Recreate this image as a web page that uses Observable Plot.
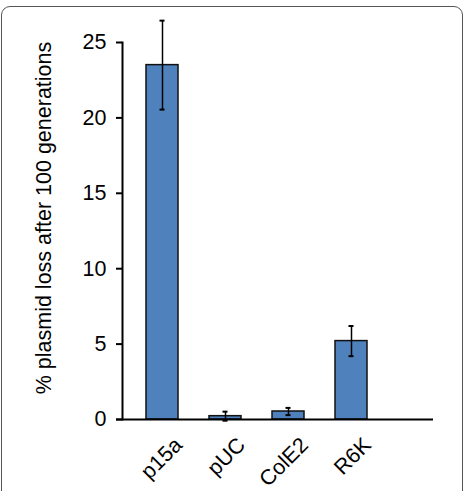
<!DOCTYPE html>
<html>
<head>
<meta charset="utf-8">
<script src="https://cdn.jsdelivr.net/npm/d3@7"></script>
<script src="https://cdn.jsdelivr.net/npm/@observablehq/plot@0.6"></script>
<style>
  html, body { margin: 0; padding: 0; background: #fff; }
  #wrap { position: relative; width: 469px; height: 491px; overflow: hidden; }
  #frame { position: absolute; left: 1px; top: 6px; width: 462px; height: 520px;
           border: 1.5px solid #555; border-radius: 9px; box-sizing: border-box; }
  #chart { position: absolute; left: 0; top: 0; }
</style>
</head>
<body>
<div id="wrap"><div id="frame"></div><div id="chart"></div></div>
<script>
const categories = ["p15a", "pUC", "ColE2", "R6K"];
const values = [23.5, 0.22, 0.53, 5.2];
const errors = [2.95, 0.3, 0.24, 1.0];
const yTicks = [0, 5, 10, 15, 20, 25];
const yLabel = "% plasmid loss after 100 generations";

const data = categories.map((c, i) => ({
  cat: c, v: values[i], lo: values[i] - errors[i], hi: values[i] + errors[i]
}));

const font = "'Liberation Sans', Arial, Helvetica, sans-serif";
const fs = 21.5;

const chart = Plot.plot({
  width: 469,
  height: 491,
  marginLeft: 122,
  marginRight: 36,
  marginTop: 42,
  marginBottom: 72,
  style: { fontFamily: font, fontSize: fs + "px", color: "#000", background: "transparent" },
  x: { domain: categories, range: [129.25, 383.25], paddingInner: 0.496, paddingOuter: 0.248, align: 0.5 },
  y: { domain: [0, 25] },
  marks: [
    Plot.barY(data, { x: "cat", y: "v", fill: "#4F81BD", stroke: "#111", strokeWidth: 1.5 }),
    Plot.ruleX(data, { x: "cat", y1: "lo", y2: "hi", stroke: "#000", strokeWidth: 1.5 }),
    Plot.tickY(data, { x: "cat", y: "lo", stroke: "#000", strokeWidth: 2, insetLeft: 13.5, insetRight: 13.5 }),
    Plot.tickY(data, { x: "cat", y: "hi", stroke: "#000", strokeWidth: 2, insetLeft: 13.5, insetRight: 13.5 }),
    Plot.axisY({ ticks: yTicks, tickSize: 6, tickPadding: 10, strokeWidth: 2, label: null, fontSize: fs }),
    Plot.axisX({ tickSize: 0, tickRotate: -45, tickPadding: 0, label: null, fontSize: fs, dx: 16, dy: 22 }),
    Plot.frame({ anchor: "left", stroke: "#000", strokeWidth: 2 }),
    Plot.ruleY([0], { stroke: "#000", strokeWidth: 2, insetLeft: -6 }),
    Plot.text([yLabel], { frameAnchor: "left", rotate: -90, dx: -78, dy: -13, fontSize: fs,
                          textAnchor: "middle", lineAnchor: "middle", fill: "#000" })
  ]
});
document.getElementById("chart").appendChild(chart);
</script>
</body>
</html>
